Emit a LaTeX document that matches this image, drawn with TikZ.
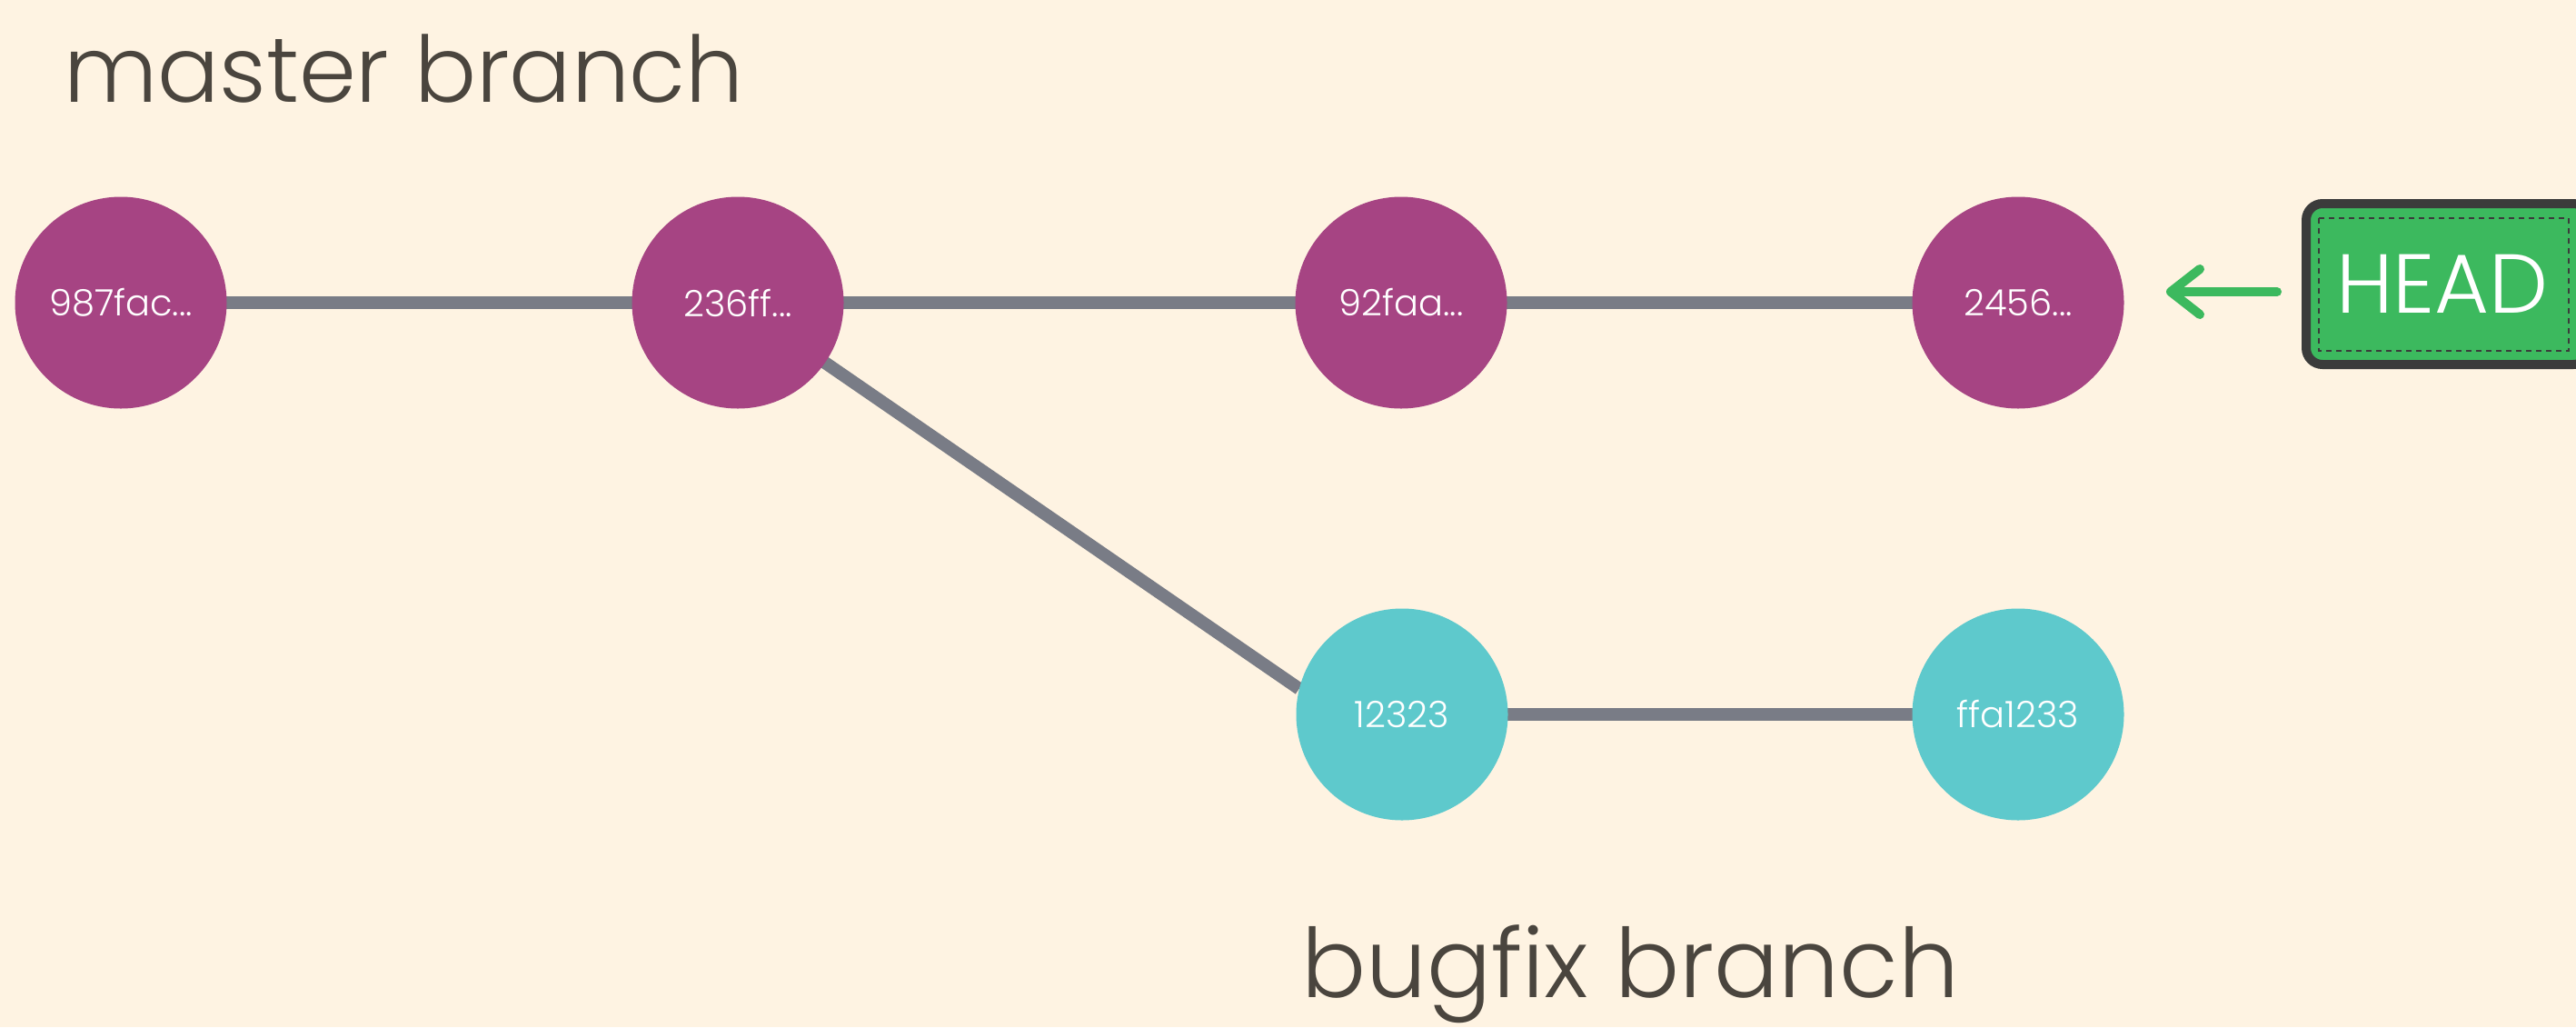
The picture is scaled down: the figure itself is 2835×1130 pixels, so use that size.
\documentclass[tikz,border=0pt]{standalone}
\usepackage{fontspec}
\setmainfont{Poppins Light}
\usetikzlibrary{arrows.meta}
\definecolor{bg}{HTML}{FEF3E2}
\definecolor{commitA}{HTML}{A64483}
\definecolor{commitB}{HTML}{5EC9CC}
\definecolor{edgegray}{HTML}{797C86}
\definecolor{titlecol}{HTML}{4A453E}
\definecolor{headgreen}{HTML}{3CB95E}
\definecolor{headborder}{HTML}{3B3B3B}
\pgfdeclarelayer{bgfill}
\pgfdeclarelayer{edges}
\pgfsetlayers{bgfill,edges,main}
\begin{document}
\begin{tikzpicture}[x=1pt,y=-1pt,
  commit/.style={circle,minimum size=233pt,inner sep=0pt,text=white,font=\fontsize{40}{40}\selectfont},
  master/.style={commit,fill=commitA},
  bugfix/.style={commit,fill=commitB},
  edge/.style={draw=edgegray,line width=14pt},
  title/.style={text=titlecol,inner sep=0pt,anchor=base west},
  pointer/.style={draw=headgreen,line width=10pt,line cap=round,-{Straight Barb[length=32pt,width=50pt,round]}}
]
\begin{pgfonlayer}{bgfill}
\fill[bg] (0,0) rectangle (2835,1130);
\end{pgfonlayer}
\useasboundingbox (0,0) rectangle (2835,1130);

\node[master] (n1) at (133,333) {987fac...};
\node[master] (n2) at (812,333) {236ff...};
\node[master] (n3) at (1542,333) {92faa...};
\node[master] (n4) at (2221,333) {2456...};
\node[bugfix] (n5) at (1543,786) {12323};
\node[bugfix] (n6) at (2221,786) {ffa1233};

\begin{pgfonlayer}{edges}
\path[edge] (n1.center) -- (n2.center);
\path[edge] (n2.center) -- (n3.center);
\path[edge] (n3.center) -- (n4.center);
\path[edge] (n2.center) -- (n5.166);
\path[edge] (n5.center) -- (n6.center);
\end{pgfonlayer}

\node[title,font=\fontsize{101}{101}\selectfont] (t1) at (70,112) {master branch};
\node[title,font=\fontsize{105.5}{105.5}\selectfont] (t2) at (1432,1097) {bugfix branch};

% HEAD box
\draw[headborder,fill=headgreen,line width=10pt,rounded corners=18pt] (2538,224) rectangle (2850,401);
\draw[headborder,line width=2pt,dash pattern=on 6pt off 5pt] (2552,240) rectangle (2827,386);
\node[text=white,font=\fontsize{92}{92}\selectfont,inner sep=0pt] (head) at (2688,312) {HEAD};

\coordinate (a1) at (2506,321);
\coordinate (a2) at (2384,321);
\draw[pointer] (a1) -- (a2);
\end{tikzpicture}
\end{document}
